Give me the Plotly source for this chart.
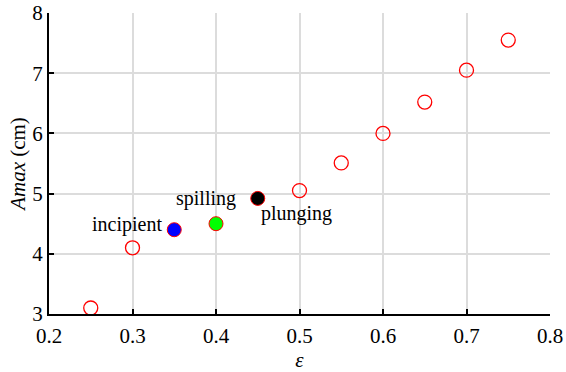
import plotly.graph_objects as go

# Wave amplitude vs. steepness parameter
eps_open = [0.25, 0.30, 0.50, 0.55, 0.60, 0.65, 0.70, 0.75]
amax_open = [3.10, 4.10, 5.05, 5.51, 6.00, 6.52, 7.05, 7.55]

eps_break = [0.35, 0.40, 0.45]
amax_break = [4.40, 4.50, 4.92]
break_names = ["incipient", "spilling", "plunging"]
break_colors = ["#0000ff", "#00ff00", "#000000"]

x_ticks = [0.2, 0.3, 0.4, 0.5, 0.6, 0.7, 0.8]
y_ticks = [3, 4, 5, 6, 7, 8]

font_family = "Liberation Serif"
fs = 21

fig = go.Figure()
fig.add_trace(go.Scatter(
    x=eps_open, y=amax_open, mode="markers",
    marker=dict(symbol="circle-open", size=14, color="#ff0000", line=dict(width=1.3)),
    showlegend=False, cliponaxis=False,
))
fig.add_trace(go.Scatter(
    x=eps_break, y=amax_break, mode="markers",
    marker=dict(symbol="circle", size=14, color=break_colors,
                line=dict(color="#ff0000", width=1)),
    showlegend=False, cliponaxis=False,
))

# Breaker-type labels (pixel offsets from each point)
offsets = [(-47, 5), (-10, 25), (39, -15)]
for x, y, name, (dx, dy) in zip(eps_break, amax_break, break_names, offsets):
    fig.add_annotation(x=x, y=y, text=name, showarrow=False,
                       xshift=dx, yshift=dy,
                       font=dict(family=font_family, size=fs - 1, color="black"))

axis_common = dict(
    showline=True, linecolor="black", linewidth=2,
    showgrid=True, gridcolor="#dcdcdc", gridwidth=2,
    ticks="inside", ticklen=5, tickwidth=1.5, tickcolor="black",
    zeroline=False, mirror=False, automargin=False,
    tickfont=dict(family=font_family, size=fs, color="black"),
)

fig.update_xaxes(range=[0.2, 0.8], tickvals=x_ticks,
                 ticktext=[f"{v:.1f}" for v in x_ticks],
                 ticklabelstandoff=2,
                 title=dict(text="<i>ε</i>", font=dict(family=font_family, size=fs, color="black"),
                            standoff=8),
                 **axis_common)
fig.update_yaxes(range=[3, 8], tickvals=y_ticks,
                 title=dict(text="<i>Amax</i> (cm)", font=dict(family=font_family, size=fs, color="black"),
                            standoff=1),
                 **axis_common)

fig.update_layout(
    width=566, height=372,
    margin=dict(l=49, r=16, t=13, b=58),
    plot_bgcolor="white", paper_bgcolor="white",
    font=dict(family=font_family, size=fs, color="black"),
)

fig.write_html("out.html")
